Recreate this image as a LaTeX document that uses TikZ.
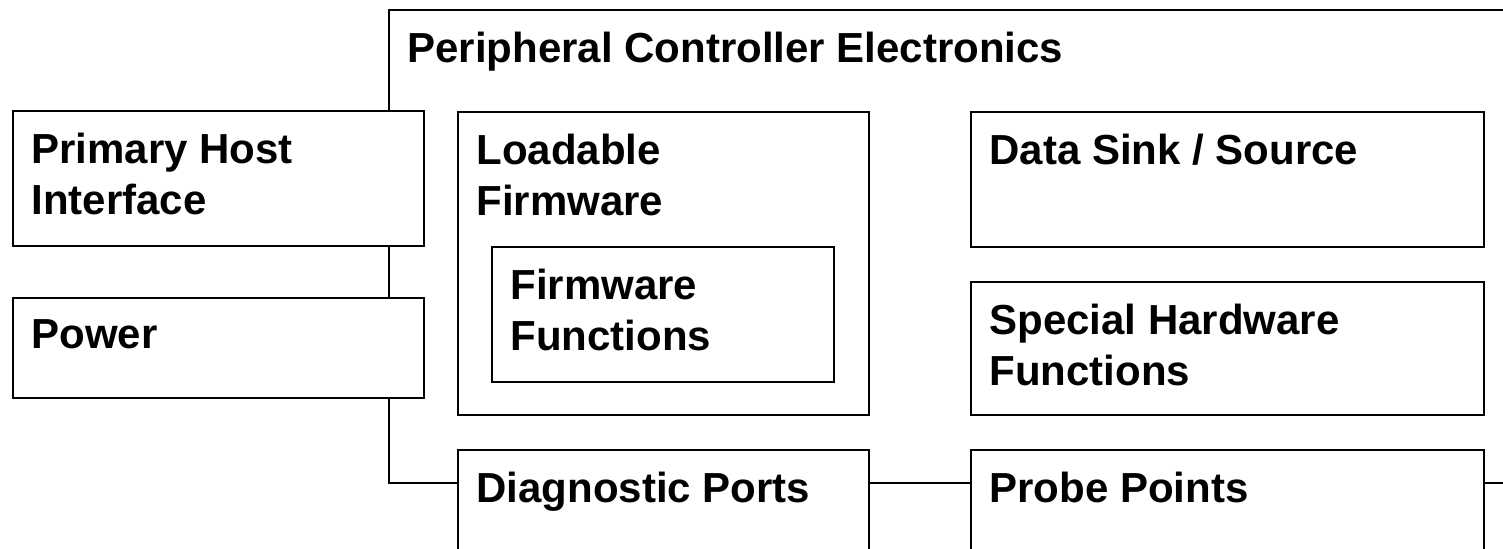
\documentclass[tikz,border=0pt]{standalone}
\usepackage{fontspec}
\setmainfont{Liberation Sans}

\begin{document}
\begin{tikzpicture}[x=0.5pt,y=-0.5pt,
        blk/.style={draw,fill=white,line width=1pt,anchor=north west,inner sep=0pt},
        lbl/.style={anchor=north west,inner sep=0pt,align=left,
            font=\bfseries\fontsize{21}{25.5}\selectfont}]
            % page size, the frame runs off the right edge
            \useasboundingbox (0,0) rectangle (1503,548);
            \clip (0,0) rectangle (1503,548);
            % outer frame of the controller
            \node[blk,minimum width=700pt,minimum height=236.5pt] (pce) at (388,9) {};
            \node[lbl] (pcetxt) at ([shift={(19,22.5)}]pce.north west) {Peripheral Controller Electronics};
            % left column
            \node[blk,minimum width=205.5pt,minimum height=67.5pt] (phi) at (12,110) {};
            \node[lbl] (phitxt) at ([shift={(19,22.5)}]phi.north west) {Primary Host\\Interface};
            \node[blk,minimum width=205.5pt,minimum height=50pt] (pwr) at (12,297) {};
            \node[lbl] (pwrtxt) at ([shift={(19,22.5)}]pwr.north west) {Power};
            % firmware
            \node[blk,minimum width=205.5pt,minimum height=151.5pt] (ldfw) at (457,111) {};
            \node[lbl] (ldfwtxt) at ([shift={(19,22.5)}]ldfw.north west) {Loadable\\Firmware};
            \node[blk,minimum width=171pt,minimum height=67.5pt] (fwfn) at (491,246) {};
            \node[lbl] (fwfntxt) at ([shift={(19,22.5)}]fwfn.north west) {Firmware\\Functions};
            % right column
            \node[blk,minimum width=256.5pt,minimum height=67.5pt] (dss) at (970,111) {};
            \node[lbl] (dsstxt) at ([shift={(19,22.5)}]dss.north west) {Data Sink / Source};
            \node[blk,minimum width=256.5pt,minimum height=66.5pt] (shw) at (970,281) {};
            \node[lbl] (shwtxt) at ([shift={(19,22.5)}]shw.north west) {Special Hardware\\Functions};
            % bottom row, cut by the page
            \node[blk,minimum width=205.5pt,minimum height=100pt] (diag) at (457,449) {};
            \node[lbl] (diagtxt) at ([shift={(19,22.5)}]diag.north west) {Diagnostic Ports};
            \node[blk,minimum width=256.5pt,minimum height=100pt] (prb) at (970,449) {};
            \node[lbl] (prbtxt) at ([shift={(19,22.5)}]prb.north west) {Probe Points};
        \end{tikzpicture}
\end{document}
